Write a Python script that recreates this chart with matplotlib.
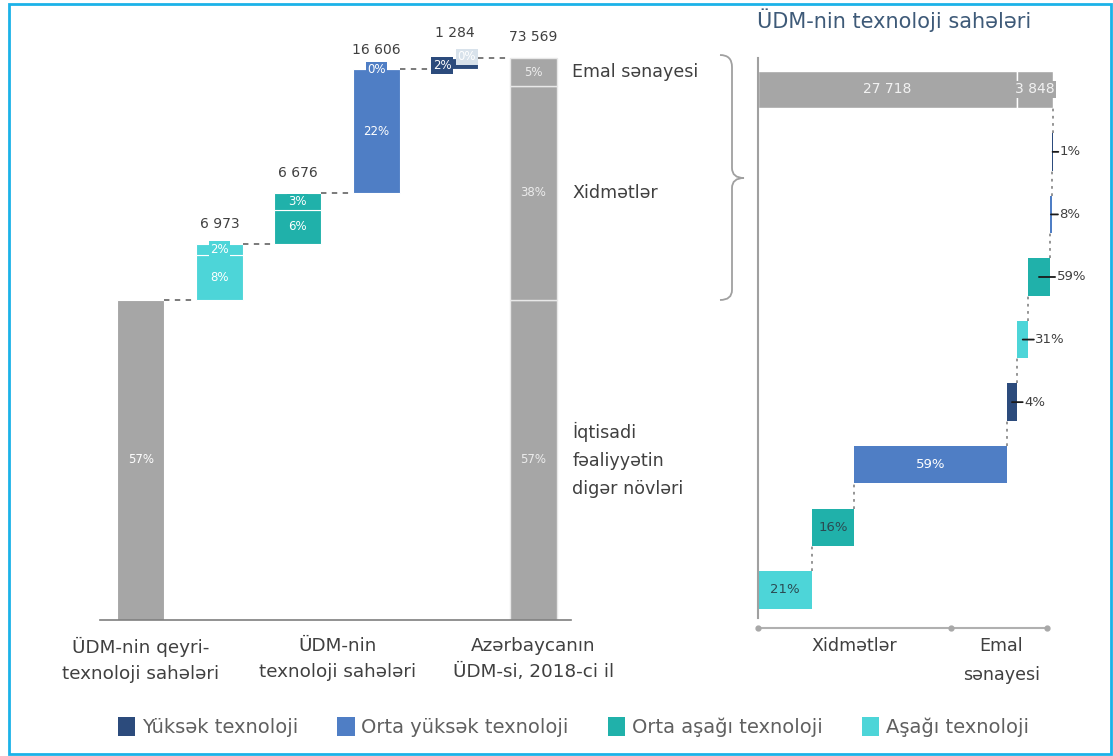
import numpy as np
import matplotlib

matplotlib.use("Agg")
import matplotlib.pyplot as plt
from matplotlib.patches import Patch, Rectangle, PathPatch
from matplotlib.path import Path
from matplotlib.transforms import offset_copy, blended_transform_factory

plt.rcParams["font.family"] = ["DejaVu Sans"]

# technology groups, from highest to lowest
tech_names = ["Yüksək texnoloji", "Orta yüksək texnoloji", "Orta aşağı texnoloji", "Aşağı texnoloji"]
tech_colors = ["#2c4b7c", "#4f7ec5", "#20b1aa", "#4dd5d8"]

# left waterfall: shares of GDP (%), columns go from low to high tech
col_order = [3, 2, 1, 0]                 # Aşağı, Orta aşağı, Orta yüksək, Yüksək
col_totals = ["6 973", "6 676", "16 606", "1 284"]
services_pct = [8, 6, 22, 2]
manufacturing_pct = [2, 3, 0, 0]
other_pct = 57
gdp_total = "73 569"
gdp_split = [57, 38, 5]                  # other, services, manufacturing
gdp_split_names = ["İqtisadi\nfəaliyyətin\ndigər növləri", "Xidmətlər", "Emal sənayesi"]
left_categories = [
    "ÜDM-nin qeyri-\ntexnoloji sahələri",
    "ÜDM-nin\ntexnoloji sahələri",
    "Azərbaycanın\nÜDM-si, 2018-ci il",
]

# right waterfall: technology sectors in mln manat and their internal structure (%)
services_total = 27718
manufacturing_total = 3848
services_share = [21, 16, 59, 4]         # Aşağı, Orta aşağı, Orta yüksək, Yüksək
manufacturing_share = [31, 59, 8, 1]

GRAY = "#a6a6a6"
TEXT = "#404040"
W, H = 1113, 756

fig = plt.figure(figsize=(W / 100, H / 100), dpi=100)
fig.patch.set_facecolor("white")


def px_axes(left, top, right, bottom):
    return fig.add_axes([left / W, 1 - bottom / H, (right - left) / W, (bottom - top) / H])


# ---------------- left chart ----------------
ax = px_axes(100, 30, 571, 620)
bw = 0.6
ax.set_xlim(-0.52, 5.48)
ax.set_ylim(0, 105)
for s in ["top", "right", "left"]:
    ax.spines[s].set_visible(False)
ax.spines["bottom"].set_color("#7f7f7f")
ax.spines["bottom"].set_linewidth(1.2)
ax.set_xticks([])
ax.set_yticks([])

dash = dict(color="#6f6f6f", lw=1.3, ls=(0, (3, 3)))
pct_style = dict(ha="center", va="center", color="white", fontsize=8.5)

ax.bar(0, other_pct, bw, color=GRAY, edgecolor="white", linewidth=0.8)
ax.text(0, other_pct / 2, f"{other_pct}%", **pct_style)

level = other_pct
for i, k in enumerate(col_order):
    x = i + 1
    color = tech_colors[k]
    s, m = services_pct[i], manufacturing_pct[i]
    ax.plot([x - 1 + bw / 2, x - bw / 2], [level, level], **dash)
    ax.bar(x, s, bw, bottom=level, color=color, edgecolor="white", linewidth=0.8)
    ax.bar(x, m, bw, bottom=level + s, color=color, edgecolor="white", linewidth=0.8)
    if s >= 4:
        ax.text(x, level + s / 2, f"{s}%", **pct_style)
        ax.text(x, level + s + m / 2, f"{m}%", zorder=5,
                bbox=dict(boxstyle="square,pad=0.1", fc=color, ec="none"), **pct_style)
        top_pad = 9
    else:
        ax.text(x - 0.16, level + s / 2 - 0.3, f"{s}%", zorder=5,
                bbox=dict(boxstyle="square,pad=0.15", fc=color, ec="none"), **pct_style)
        ax.text(x + 0.15, level + s + 0.2, f"{m}%", zorder=5,
                bbox=dict(boxstyle="square,pad=0.15", fc="#d8e2eb", ec="none"),
                **pct_style)
        top_pad = 13
    ax.annotate(col_totals[i], xy=(x, level + s + m), xytext=(0, top_pad),
                textcoords="offset points", ha="center", va="bottom",
                fontsize=10, color=TEXT)
    level += s + m

# total GDP column
ax.plot([4 + bw / 2, 5 - bw / 2], [level, level], **dash)
bottom = 0
for val, name in zip(gdp_split, gdp_split_names):
    ax.bar(5, val, bw, bottom=bottom, color=GRAY, edgecolor="#e8e8e8", linewidth=1.0)
    ax.text(5, bottom + val / 2, f"{val}%", ha="center", va="center",
            color="#ececec", fontsize=8.5)
    ax.annotate(name, xy=(5 + bw / 2, bottom + val / 2), xytext=(11, 0),
                textcoords="offset points", ha="left", va="center",
                fontsize=12.6, color=TEXT, linespacing=1.7)
    bottom += val
ax.annotate(gdp_total, xy=(5, bottom), xytext=(0, 10), textcoords="offset points",
            ha="center", va="bottom", fontsize=10, color=TEXT)

cat_x = [0, 2.5, 5]
for cx, lbl in zip(cat_x, left_categories):
    ax.annotate(lbl, xy=(cx, 0), xytext=(0, -12), textcoords="offset points",
                ha="center", va="top", fontsize=13.2, color=TEXT, linespacing=1.62)

# ---------------- right chart ----------------
rx = px_axes(758, 58, 1060, 618)
rx.set_xlim(0, 32300)
rx.set_ylim(-0.45, 8.5)
for s in ["top", "right", "bottom"]:
    rx.spines[s].set_visible(False)
rx.spines["left"].set_color("#a0a0a0")
rx.spines["left"].set_linewidth(1.5)
rx.set_xticks([])
rx.set_yticks([])

bh = 0.6
segments = []
cum = 0
for j, k in enumerate(col_order):
    segments.append((cum, services_total * services_share[j] / 100, k, services_share[j]))
    cum = services_total if j == 3 else cum + segments[-1][1]
for j, k in enumerate(col_order):
    segments.append((cum, manufacturing_total * manufacturing_share[j] / 100, k,
                     manufacturing_share[j]))
    cum += segments[-1][1]

inside_text = {3: "#2b4a52", 2: "#2b4a52", 1: "white", 0: "white"}
for row, (left, width, k, share) in enumerate(segments):
    rx.barh(row, width, left=left, height=bh, color=tech_colors[k], linewidth=0)
    end = left + width
    if width > 3000:
        rx.text(left + width / 2, row, f"{share}%", ha="center", va="center",
                color=inside_text[k], fontsize=9.5)
    else:
        rx.annotate("", xy=(left + width / 2, row), xytext=(end, row),
                    textcoords=offset_copy(rx.transData, fig=fig, x=4, y=0, units="points"),
                    arrowprops=dict(arrowstyle="-", lw=1.3, color="#1a1a1a",
                                    shrinkA=0, shrinkB=0))
        rx.annotate(f"{share}%", xy=(end, row), xytext=(5, 0), textcoords="offset points",
                    ha="left", va="center", fontsize=9.5, color=TEXT)
    top_edge = row + 1 - bh / 2
    rx.plot([end, end], [row + bh / 2, top_edge], color="#8c8c8c", lw=1.3,
            ls=(0, (1.5, 2.5)))

# sector totals bar
rx.barh(8, services_total, left=0, height=bh, color=GRAY, edgecolor="white", linewidth=1.0)
rx.barh(8, manufacturing_total, left=services_total, height=bh, color=GRAY,
        edgecolor="white", linewidth=1.0)
rx.text(services_total / 2, 8, f"{services_total:,}".replace(",", " "), ha="center",
        va="center", color="#f2f2f2", fontsize=10)
rx.text(services_total + manufacturing_total / 2, 8,
        f"{manufacturing_total:,}".replace(",", " "), ha="center", va="center",
        color="#f2f2f2", fontsize=10,
        bbox=dict(boxstyle="square,pad=0.1", fc=GRAY, ec="none"))

# bracket axis under the right chart
bt = blended_transform_factory(rx.transAxes, rx.transAxes)
rx.plot([0, 0.957], [-0.018, -0.018], color="#b0b0b0", lw=1.5, transform=bt, clip_on=False)
rx.plot([0, 0.64, 0.957], [-0.018] * 3, "o", color="#a8a8a8", ms=3.5, transform=bt,
        clip_on=False)
rx.text(0.32, -0.034, "Xidmətlər", transform=bt, ha="center", va="top",
        fontsize=12.6, color=TEXT)
rx.text(0.805, -0.034, "Emal\nsənayesi", transform=bt, ha="center", va="top",
        fontsize=12.6, color=TEXT, linespacing=1.75)

fig.text(757 / W, 1 - 20 / H, "ÜDM-nin texnoloji sahələri", ha="left", va="center",
         fontsize=15, color="#3e5a78")

# brace linking the total column to the right chart, and the frame
ov = fig.add_axes([0, 0, 1, 1], zorder=10)
ov.set_xlim(0, W)
ov.set_ylim(H, 0)
ov.axis("off")
ov.patch.set_alpha(0)
brace = Path(
    [(720, 55), (732, 55), (732, 67), (732, 168), (732, 178), (744, 178),
     (732, 178), (732, 188), (732, 290), (732, 300), (720, 300)],
    [Path.MOVETO, Path.CURVE3, Path.CURVE3, Path.LINETO, Path.CURVE3, Path.CURVE3,
     Path.CURVE3, Path.CURVE3, Path.LINETO, Path.CURVE3, Path.CURVE3],
)
ov.add_patch(PathPatch(brace, fc="none", ec="#a0a0a0", lw=1.3))
ov.add_patch(Rectangle((9, 4), 1102, 750, fc="none", ec="#1cb2e8", lw=2.0))

handles = [Patch(facecolor=c, edgecolor="none", label=n) for c, n in zip(tech_colors, tech_names)]
fig.legend(handles=handles, loc="center", bbox_to_anchor=(0.515, 1 - 727 / H), ncol=4,
           frameon=False, handlelength=0.9, handleheight=1.1, handletextpad=0.35,
           columnspacing=2.0, fontsize=14, labelcolor="#606060")

fig.savefig("out.png", dpi=100)
